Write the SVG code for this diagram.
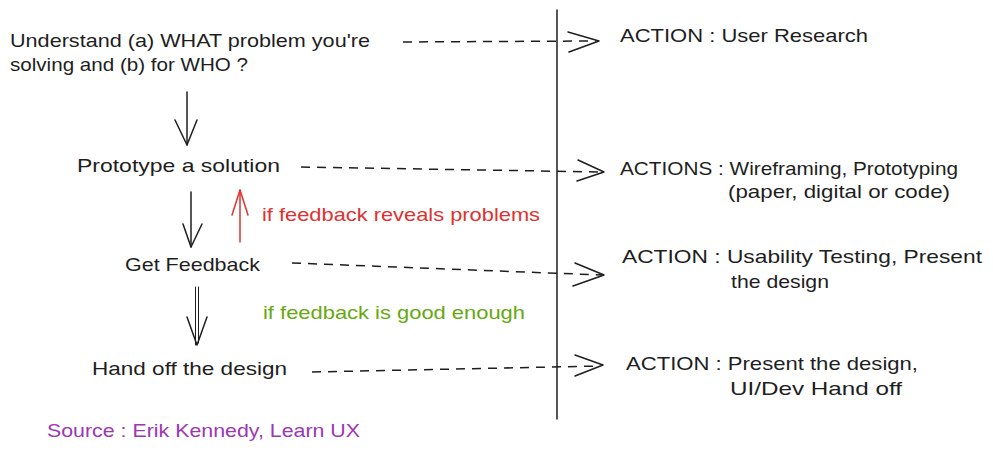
<svg xmlns="http://www.w3.org/2000/svg" width="993" height="452" viewBox="0 0 993 452">
<style>
text{font-family:"Liberation Sans",Arial,sans-serif;font-size:19px;fill:#1e1e1e}
.red{fill:#e03131}
.green{fill:#66a80f}
.purple{fill:#9c36b5}
.ln{fill:none;stroke:#1e1e1e;stroke-width:1.5;stroke-linecap:round;stroke-linejoin:round}
.thin{fill:none;stroke:#1e1e1e;stroke-width:1;stroke-linecap:round}
.dash{fill:none;stroke:#1e1e1e;stroke-width:1.5;stroke-dasharray:9 7}
.ah{fill:none;stroke:#1e1e1e;stroke-width:1.5;stroke-linecap:round;stroke-linejoin:round}
.redln{fill:none;stroke:#e03131;stroke-width:1.5;stroke-linecap:round;stroke-linejoin:round}
</style>
<rect width="993" height="452" fill="#ffffff"/>

<g id="divider">
<line class="ln" x1="557" y1="10" x2="557" y2="419" stroke-width="2"/>
</g>

<g id="node-understand">
<text x="10" y="47" textLength="360" lengthAdjust="spacingAndGlyphs">Understand (a) WHAT problem you're</text>
<text x="10" y="71" textLength="238" lengthAdjust="spacingAndGlyphs">solving and (b) for WHO ?</text>
</g>
<g id="node-prototype">
<text x="77" y="172" textLength="203" lengthAdjust="spacingAndGlyphs">Prototype a solution</text>
</g>
<g id="node-feedback">
<text x="125" y="271" textLength="135" lengthAdjust="spacingAndGlyphs">Get Feedback</text>
</g>
<g id="node-handoff">
<text x="92" y="375" textLength="195" lengthAdjust="spacingAndGlyphs">Hand off the design</text>
</g>

<g id="action-1">
<text x="620" y="42" textLength="248" lengthAdjust="spacingAndGlyphs">ACTION : User Research</text>
</g>
<g id="action-2">
<text x="620" y="175" textLength="338" lengthAdjust="spacingAndGlyphs">ACTIONS : Wireframing, Prototyping</text>
<text x="728" y="198" textLength="222" lengthAdjust="spacingAndGlyphs">(paper, digital or code)</text>
</g>
<g id="action-3">
<text x="622" y="263" textLength="360" lengthAdjust="spacingAndGlyphs">ACTION : Usability Testing, Present</text>
<text x="731" y="288" textLength="98" lengthAdjust="spacingAndGlyphs">the design</text>
</g>
<g id="action-4">
<text x="626" y="370" textLength="292" lengthAdjust="spacingAndGlyphs">ACTION : Present the design,</text>
<text x="730" y="395" textLength="172" lengthAdjust="spacingAndGlyphs">UI/Dev Hand off</text>
</g>

<g id="label-problems">
<text class="red" x="262" y="221" textLength="278" lengthAdjust="spacingAndGlyphs">if feedback reveals problems</text>
</g>
<g id="label-good">
<text class="green" x="263" y="319" textLength="262" lengthAdjust="spacingAndGlyphs">if feedback is good enough</text>
</g>
<g id="source">
<text class="purple" x="47" y="437" textLength="313" lengthAdjust="spacingAndGlyphs">Source : Erik Kennedy, Learn UX</text>
</g>

<g id="connectors">
<path class="ln" d="M187 92 L187 145"/>
<path class="ah" d="M175 120 L187 145 L197 120"/>
<path class="ln" d="M191 192 L191 247"/>
<path class="ah" d="M183 224 L191 247 L202 224"/>
<path class="thin" d="M195.5 287 L195.5 345 M198.5 287 L198.5 343"/>
<path class="ah" d="M187 317 L197 345 L207 317"/>
<path class="redln" d="M240 242 L240 190"/>
<path class="redln" d="M232 215 L240 190 L248 215"/>
<path class="dash" d="M403 42 L596 41"/>
<path class="ah" d="M568 32 L599 41 L569 52"/>
<path class="dash" d="M301 167 L602 172"/>
<path class="ah" d="M578 160 L604 172 L577 181"/>
<path class="dash" d="M292 263 L602 275"/>
<path class="ah" d="M575 263 L604 275 L573 286"/>
<path class="dash" d="M312 372 L600 366"/>
<path class="ah" d="M575 355 L603 365 L575 376"/>
</g>
</svg>
